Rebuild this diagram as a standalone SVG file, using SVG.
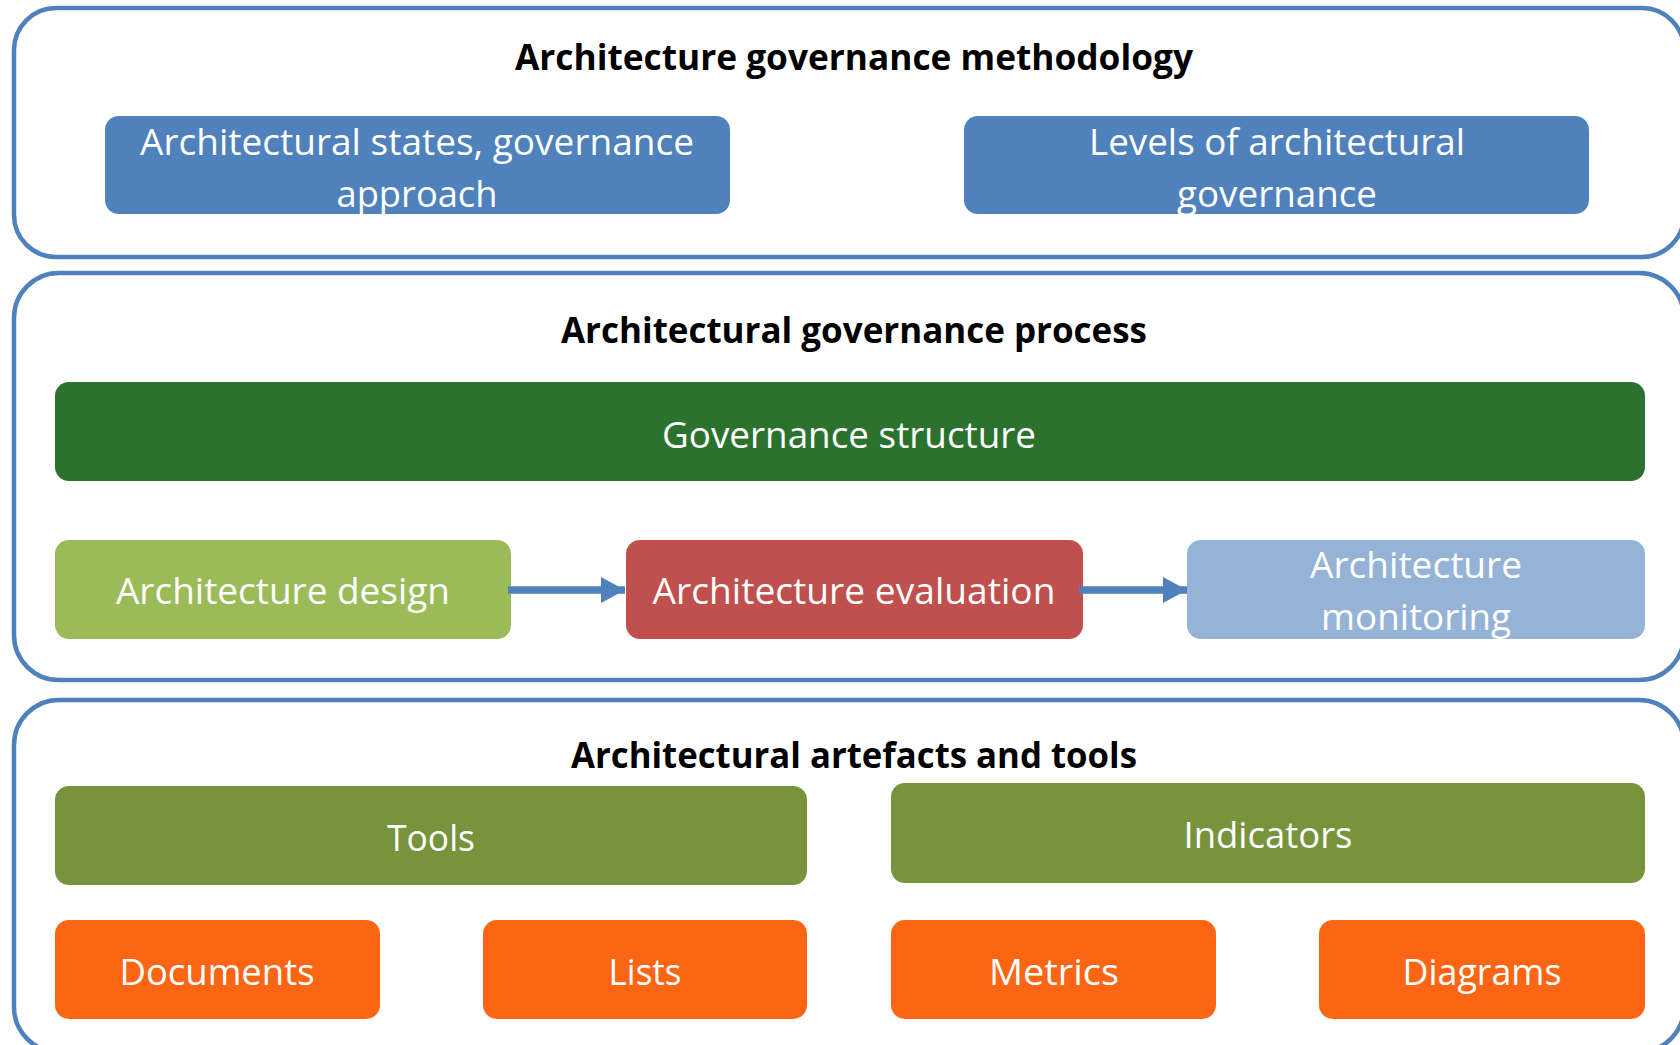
<svg xmlns="http://www.w3.org/2000/svg" width="1680" height="1045" viewBox="0 0 1680 1045">
<defs>
<style>
.panel{fill:#fff;stroke:#4F81BD;stroke-width:4.5}
.box{stroke:none}
.t{font-family:"Open Sans","Noto Sans",sans-serif;font-size:37px;fill:#fff;text-anchor:middle}
.h{font-family:"Open Sans","Noto Sans",sans-serif;font-size:36px;font-weight:bold;fill:#000;text-anchor:middle}
.conn{stroke:#4F81BD;stroke-width:7.5;fill:none}
</style>
<marker id="ah" viewBox="0 0 10 10" refX="10" refY="5" markerUnits="userSpaceOnUse" markerWidth="24" markerHeight="26" preserveAspectRatio="none" orient="auto">
<path d="M0,0 L10,5 L0,10 Z" fill="#4F81BD"/>
</marker>
</defs>
<rect width="1680" height="1045" fill="#fff"/>
<g id="panel-methodology">
<rect class="panel" x="14" y="8" width="1670" height="249" rx="42"/>
<text class="h" x="854" y="70" textLength="678" lengthAdjust="spacingAndGlyphs">Architecture governance methodology</text>
</g>
<g id="panel-process">
<rect class="panel" x="14" y="273" width="1670" height="407" rx="45"/>
<text class="h" x="854" y="343" textLength="586" lengthAdjust="spacingAndGlyphs">Architectural governance process</text>
</g>
<g id="panel-artefacts">
<rect class="panel" x="14" y="700" width="1670" height="352" rx="45"/>
<text class="h" x="854" y="768" textLength="566" lengthAdjust="spacingAndGlyphs">Architectural artefacts and tools</text>
</g>
<g id="node-states">
<rect class="box" x="105" y="116" width="625" height="98" rx="14" fill="#4F81BD"/>
<text class="t" x="417" y="155" textLength="554" lengthAdjust="spacingAndGlyphs">Architectural states, governance</text>
<text class="t" x="417" y="207" textLength="161" lengthAdjust="spacingAndGlyphs">approach</text>
</g>
<g id="node-levels">
<rect class="box" x="964" y="116" width="625" height="98" rx="14" fill="#4F81BD"/>
<text class="t" x="1277" y="155" textLength="376" lengthAdjust="spacingAndGlyphs">Levels of architectural</text>
<text class="t" x="1277" y="207" textLength="200" lengthAdjust="spacingAndGlyphs">governance</text>
</g>
<g id="node-structure">
<rect class="box" x="55" y="382" width="1590" height="99" rx="14" fill="#2C722F"/>
<text class="t" x="849" y="448" textLength="374" lengthAdjust="spacingAndGlyphs">Governance structure</text>
</g>
<g id="node-design">
<rect class="box" x="55" y="540" width="456" height="99" rx="14" fill="#9BBB59"/>
<text class="t" x="283" y="604" textLength="334" lengthAdjust="spacingAndGlyphs">Architecture design</text>
</g>
<g id="node-evaluation">
<rect class="box" x="626" y="540" width="457" height="99" rx="14" fill="#C0504D"/>
<text class="t" x="854" y="604" textLength="403" lengthAdjust="spacingAndGlyphs">Architecture evaluation</text>
</g>
<g id="node-monitoring">
<rect class="box" x="1187" y="540" width="458" height="99" rx="14" fill="#95B3D7"/>
<text class="t" x="1416" y="578" textLength="212" lengthAdjust="spacingAndGlyphs">Architecture</text>
<text class="t" x="1416" y="630" textLength="190" lengthAdjust="spacingAndGlyphs">monitoring</text>
</g>
<g id="node-tools">
<rect class="box" x="55" y="786" width="752" height="99" rx="14" fill="#77933C"/>
<text class="t" x="431" y="851" textLength="88" lengthAdjust="spacingAndGlyphs">Tools</text>
</g>
<g id="node-indicators">
<rect class="box" x="891" y="783" width="754" height="100" rx="14" fill="#77933C"/>
<text class="t" x="1268" y="848" textLength="169" lengthAdjust="spacingAndGlyphs">Indicators</text>
</g>
<g id="node-documents">
<rect class="box" x="55" y="920" width="325" height="99" rx="14" fill="#FC6514"/>
<text class="t" x="217" y="985" textLength="195" lengthAdjust="spacingAndGlyphs">Documents</text>
</g>
<g id="node-lists">
<rect class="box" x="483" y="920" width="324" height="99" rx="14" fill="#FC6514"/>
<text class="t" x="645" y="985" textLength="73" lengthAdjust="spacingAndGlyphs">Lists</text>
</g>
<g id="node-metrics">
<rect class="box" x="891" y="920" width="325" height="99" rx="14" fill="#FC6514"/>
<text class="t" x="1054" y="985" textLength="130" lengthAdjust="spacingAndGlyphs">Metrics</text>
</g>
<g id="node-diagrams">
<rect class="box" x="1319" y="920" width="326" height="99" rx="14" fill="#FC6514"/>
<text class="t" x="1482" y="985" textLength="159" lengthAdjust="spacingAndGlyphs">Diagrams</text>
</g>
<g id="connectors">
<line class="conn" x1="508" y1="590" x2="625" y2="590" marker-end="url(#ah)"/>
<line class="conn" x1="1079" y1="590" x2="1187" y2="590" marker-end="url(#ah)"/>
</g>
</svg>
